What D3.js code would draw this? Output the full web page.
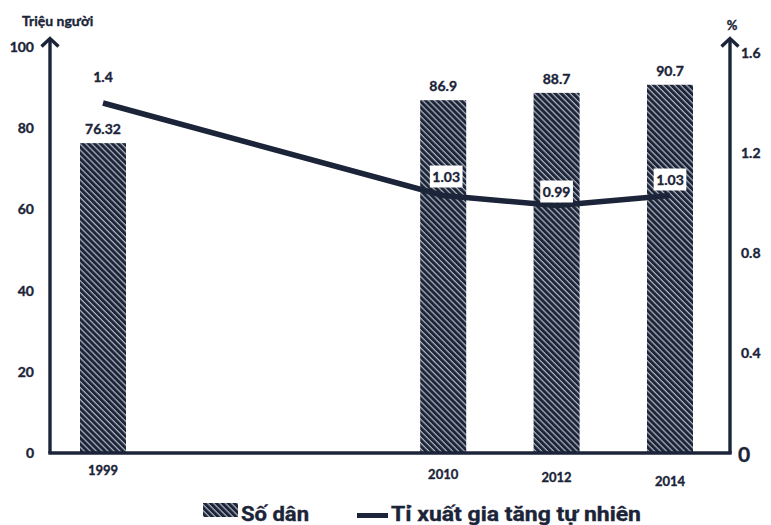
<!DOCTYPE html>
<html><head><meta charset="utf-8">
<script src="https://cdn.jsdelivr.net/npm/d3@7"></script>
<style>
html,body{margin:0;padding:0;background:#fff;}
svg text{font-family:Lato, "Open Sans", sans-serif;font-weight:700;fill:#1b2438;stroke:#1b2438;stroke-width:0.35px;}
</style></head>
<body><svg id="c" width="771" height="525"></svg>
<script>
const years = ["1999","2010","2012","2014"];
const slots = ["1999","_gap1","_gap2","2010","2012","2014"];
const population = [76.32, 86.9, 88.7, 90.7];
const growthRate = [1.4, 1.03, 0.99, 1.03];
const leftTicks = [0,20,40,60,80,100];
const rightTicks = [0,0.4,0.8,1.2,1.6];
const leftTitle = "Triệu người";
const rightTitle = "%";
const legendLabels = ["Số dân","Tỉ xuất gia tăng tự nhiên"];

const ink = "#1b2438";
const svg = d3.select("#c");

const x = d3.scalePoint().domain(slots).range([103, 670]);
const yL = d3.scaleLinear().domain([0,100]).range([453, 47]);
const yR = d3.scaleLinear().domain([0,1.6]).range([453, 53]);
const barW = 46;

// hatch pattern
const defs = svg.append("defs");
const P = 4.2;
const pat = defs.append("pattern").attr("id","hatch").attr("patternUnits","userSpaceOnUse")
  .attr("width",P).attr("height",P).attr("patternTransform","rotate(-45)");
pat.append("rect").attr("width",P).attr("height",P).attr("fill",ink);
pat.append("line").attr("x1",1).attr("y1",0).attr("x2",1).attr("y2",P)
  .attr("stroke","#e8ebf0").attr("stroke-width",0.9);

// bars
svg.append("g").selectAll("rect").data(years).join("rect")
  .attr("x", d => x(d) - barW/2)
  .attr("y", (d,i) => yL(population[i]))
  .attr("width", barW)
  .attr("height", (d,i) => yL(0) - yL(population[i]))
  .attr("fill","url(#hatch)");

// axes
const axisG = svg.append("g");
const leftAxis = d3.axisLeft(yL).tickValues(leftTicks).tickSize(0).tickPadding(16);
const gl = axisG.append("g").attr("transform","translate(50,0)").call(leftAxis);
gl.select(".domain").remove();
gl.selectAll("text").style("font-size","14px").style("font-family","Lato, sans-serif").attr("fill",ink);

const rightAxis = d3.axisRight(yR).tickValues(rightTicks).tickSize(0).tickPadding(11)
  .tickFormat(d => d === 0 ? "0" : d3.format(".1f")(d));
const gr = axisG.append("g").attr("transform","translate(730,0)").call(rightAxis);
gr.select(".domain").remove();
gr.selectAll("text").style("font-size", d => d === 0 ? "21px" : "14px")
  .style("font-family","Lato, sans-serif").attr("fill",ink)
  .attr("x", d => d === 0 ? 8 : 11)
  .attr("dy", d => d === 0 ? "0.4em" : "0.32em");

axisG.append("path").attr("d", `M50,${yL(0)}V39`).attr("stroke",ink).attr("stroke-width",3.4).attr("fill","none");
axisG.append("path").attr("d", `M730,${yL(0)}V39`).attr("stroke",ink).attr("stroke-width",3.4).attr("fill","none");
axisG.append("path").attr("d", `M48.3,${yL(0)}H731.7`).attr("stroke",ink).attr("stroke-width",3.6).attr("fill","none");
[50,730].forEach(ax => {
  axisG.append("path").attr("d", `M${ax-8.5},46.5L${ax},38.5L${ax+8.5},46.5`)
    .attr("stroke",ink).attr("stroke-width",3.4).attr("fill","none").attr("stroke-linejoin","miter");
});

// axis titles
svg.append("text").attr("x",22).attr("y",26).style("font-size","14px").text(leftTitle);
svg.append("text").attr("x",732).attr("y",30).attr("text-anchor","middle").style("font-size","13px").text(rightTitle);

// x labels
const xlabelY = [475, 479, 482, 486];
svg.append("g").selectAll("text").data(years).join("text")
  .attr("x", d => x(d)).attr("y", (d,i) => xlabelY[i])
  .attr("text-anchor","middle").style("font-size","13px").text(d => d);

// bar value labels
svg.append("g").selectAll("text").data(years).join("text")
  .attr("x", d => x(d)).attr("y", (d,i) => yL(population[i]) - 9)
  .attr("text-anchor","middle").style("font-size","14px").text((d,i) => population[i]);

// line
const line = d3.line().x(d => x(d.year)).y(d => yR(d.v));
const pts = years.map((y,i) => ({year:y, v:growthRate[i]}));
svg.append("path").datum(pts).attr("d", line).attr("fill","none")
  .attr("stroke",ink).attr("stroke-width",5.5).attr("stroke-linejoin","round");

// line labels
const lblOff = [21, 19, 14, 16];
pts.forEach((p,i) => {
  if (i === 0) {
    svg.append("text").attr("x", x(p.year)).attr("y", yR(p.v) - lblOff[i])
      .attr("text-anchor","middle").style("font-size","14px").text(d3.format(".1f")(p.v));
  } else {
    const cy = yR(p.v) - lblOff[i];
    const t = svg.append("text").attr("x", x(p.year) + (i === 1 ? 3 : 0)).attr("y", cy + 5)
      .attr("text-anchor","middle").style("font-size","14px").text(d3.format(".2f")(p.v));
    const bb = t.node().getBBox();
    svg.insert("rect", () => t.node()).attr("x", bb.x - 2.5).attr("y", cy - 11)
      .attr("width", bb.width + 5).attr("height", 22).attr("fill","#fff");
  }
});

// legend
const lg = svg.append("g");
lg.append("rect").attr("x",203).attr("y",503).attr("width",35).attr("height",14).attr("fill","url(#hatch)");
lg.append("text").attr("x",241).attr("y",521).style("font-size","20px")
  .style("font-family","Roboto, sans-serif").style("font-weight","700")
  .attr("textLength",68).attr("lengthAdjust","spacingAndGlyphs").text(legendLabels[0]);
lg.append("line").attr("x1",357).attr("x2",388).attr("y1",515.5).attr("y2",515.5)
  .attr("stroke",ink).attr("stroke-width",5);
lg.append("text").attr("x",391).attr("y",521).style("font-size","20px")
  .style("font-family","Roboto, sans-serif").style("font-weight","700")
  .attr("textLength",250).attr("lengthAdjust","spacingAndGlyphs").text(legendLabels[1]);
</script></body></html>
